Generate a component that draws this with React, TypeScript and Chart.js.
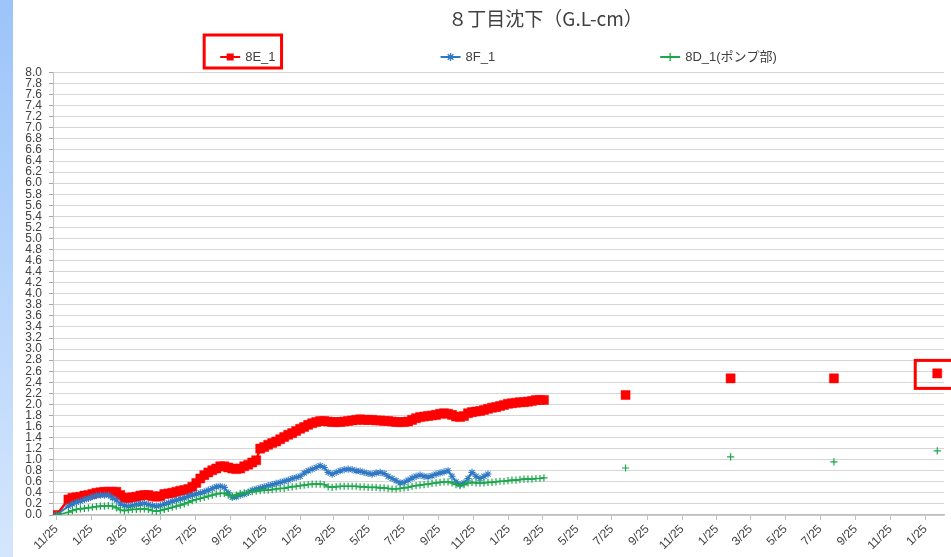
import React, { useEffect, useRef } from 'react';
import { Chart, registerables } from 'chart.js';

Chart.register(...registerables);

const chartTitle = '８丁目沈下（G.L-cm）';
const seriesNames = ['8E_1', '8F_1', '8D_1(ポンプ部)'];
const seriesColors = ['#ff0000', '#2f78c4', '#1aa84b'];
const seriesMarkers = ['rect', 'star', 'cross'];

const surveyStart = '2011-11-25';
const initialValue = 0;

const tickDates = [
  '2011-11-25', '2012-01-25', '2012-03-25', '2012-05-25', '2012-07-25', '2012-09-25',
  '2012-11-25', '2013-01-25', '2013-03-25', '2013-05-25', '2013-07-25', '2013-09-25',
  '2013-11-25', '2014-01-25', '2014-03-25', '2014-05-25', '2014-07-25', '2014-09-25',
  '2014-11-25', '2015-01-25', '2015-03-25', '2015-05-25', '2015-07-25', '2015-09-25',
  '2015-11-25', '2016-01-25',
];
const tickLabels = [
  '11/25', '1/25', '3/25', '5/25', '7/25', '9/25',
  '11/25', '1/25', '3/25', '5/25', '7/25', '9/25',
  '11/25', '1/25', '3/25', '5/25', '7/25', '9/25',
  '11/25', '1/25', '3/25', '5/25', '7/25', '9/25',
  '11/25', '1/25',
];

// weekly surveys start in week 3 after the initial survey
const firstWeeklyWeek = 3;

const red8E1Weekly = [
  0.28, 0.31, 0.32, 0.33, 0.35, 0.36, 0.38, 0.40, 0.41, 0.42,
  0.42, 0.42, 0.42, 0.36, 0.31, 0.31, 0.32, 0.33, 0.35, 0.36,
  0.36, 0.34, 0.33, 0.34, 0.38, 0.39, 0.40, 0.42, 0.44, 0.45,
  0.47, 0.51, 0.58, 0.66, 0.72, 0.77, 0.81, 0.84, 0.88, 0.88,
  0.86, 0.84, 0.83, 0.84, 0.88, 0.91, 0.95, 0.99, 1.20, 1.23,
  1.27, 1.30, 1.33, 1.37, 1.41, 1.45, 1.48, 1.52, 1.56, 1.59,
  1.63, 1.66, 1.68, 1.70, 1.70, 1.69, 1.68, 1.68, 1.68, 1.69,
  1.70, 1.71, 1.72, 1.73, 1.72, 1.72, 1.72, 1.71, 1.71, 1.70,
  1.70, 1.69, 1.68, 1.68, 1.68, 1.69, 1.72, 1.75, 1.77, 1.78,
  1.79, 1.80, 1.81, 1.83, 1.84, 1.83, 1.81, 1.78, 1.77, 1.79,
  1.84, 1.86, 1.87, 1.88, 1.90, 1.92, 1.94, 1.95, 1.97, 1.99,
  2.01, 2.02, 2.03, 2.04, 2.04, 2.05, 2.06, 2.08, 2.08, 2.08,
];

const blue8F1Weekly = [
  0.16, 0.20, 0.23, 0.25, 0.28, 0.30, 0.33, 0.35, 0.36, 0.36,
  0.36, 0.31, 0.27, 0.20, 0.17, 0.16, 0.17, 0.19, 0.20, 0.21,
  0.19, 0.17, 0.16, 0.17, 0.20, 0.22, 0.25, 0.27, 0.29, 0.31,
  0.34, 0.36, 0.38, 0.40, 0.42, 0.45, 0.48, 0.51, 0.52, 0.50,
  0.40, 0.32, 0.33, 0.36, 0.38, 0.41, 0.45, 0.47, 0.49, 0.51,
  0.53, 0.55, 0.57, 0.59, 0.61, 0.63, 0.66, 0.68, 0.70, 0.76,
  0.80, 0.83, 0.86, 0.89, 0.86, 0.77, 0.74, 0.77, 0.80, 0.82,
  0.83, 0.82, 0.80, 0.79, 0.77, 0.75, 0.74, 0.76, 0.77, 0.75,
  0.70, 0.66, 0.62, 0.58, 0.59, 0.63, 0.67, 0.70, 0.72, 0.70,
  0.69, 0.71, 0.74, 0.76, 0.78, 0.80, 0.70, 0.60, 0.55, 0.58,
  0.66, 0.77, 0.70, 0.66, 0.70, 0.74,
];

const green8D1Weekly = [
  0.05, 0.08, 0.10, 0.11, 0.12, 0.13, 0.14, 0.15, 0.16, 0.16,
  0.17, 0.16, 0.13, 0.09, 0.08, 0.09, 0.10, 0.10, 0.11, 0.11,
  0.10, 0.08, 0.07, 0.08, 0.10, 0.12, 0.14, 0.16, 0.18, 0.20,
  0.23, 0.26, 0.28, 0.30, 0.32, 0.34, 0.36, 0.38, 0.39, 0.39,
  0.36, 0.34, 0.36, 0.39, 0.40, 0.41, 0.42, 0.43, 0.44, 0.45,
  0.45, 0.46, 0.47, 0.48, 0.48, 0.50, 0.51, 0.52, 0.53, 0.54,
  0.55, 0.56, 0.56, 0.56, 0.55, 0.51, 0.50, 0.51, 0.52, 0.52,
  0.52, 0.52, 0.52, 0.51, 0.51, 0.50, 0.50, 0.50, 0.49, 0.49,
  0.48, 0.47, 0.47, 0.48, 0.49, 0.50, 0.52, 0.53, 0.54, 0.55,
  0.56, 0.57, 0.58, 0.59, 0.60, 0.60, 0.58, 0.55, 0.53, 0.55,
  0.58, 0.59, 0.58, 0.58, 0.58, 0.59, 0.59, 0.60, 0.61, 0.61,
  0.62, 0.63, 0.63, 0.64, 0.65, 0.65, 0.65, 0.66, 0.66, 0.67,
];

const laterDates = ['2014-08-18', '2015-02-18', '2015-08-18', '2016-02-15'];
const red8E1Later = [2.17, 2.47, 2.47, 2.56];
const blue8F1Later: number[] = [];
const green8D1Later = [0.85, 1.05, 0.96, 1.16];

const DAY = 86400000;
const dayOf = (iso: string) => Math.round((Date.parse(iso) - Date.parse(surveyStart)) / DAY);
const tickDays = tickDates.map(dayOf);

function buildSeries(weekly: number[], later: number[]) {
  const pts: { x: number; y: number | null }[] = [{ x: 0, y: initialValue }];
  weekly.forEach((v, i) => pts.push({ x: 7 * (firstWeeklyWeek + i), y: v }));
  later.forEach((v, i) => {
    const d = dayOf(laterDates[i]);
    pts.push({ x: d - 1, y: null });
    pts.push({ x: d, y: v });
  });
  return pts;
}

function drawMarker(ctx: CanvasRenderingContext2D, style: string, x: number, y: number, r: number, color: string) {
  ctx.save();
  ctx.strokeStyle = color;
  ctx.fillStyle = color;
  ctx.lineWidth = 1.3;
  ctx.beginPath();
  if (style === 'rect') {
    ctx.fillRect(x - r, y - r, 2 * r, 2 * r);
  } else if (style === 'star') {
    const d = r * Math.SQRT1_2;
    ctx.moveTo(x - r, y); ctx.lineTo(x + r, y);
    ctx.moveTo(x, y - r); ctx.lineTo(x, y + r);
    ctx.moveTo(x - d, y - d); ctx.lineTo(x + d, y + d);
    ctx.moveTo(x - d, y + d); ctx.lineTo(x + d, y - d);
    ctx.stroke();
  } else {
    ctx.moveTo(x - r, y); ctx.lineTo(x + r, y);
    ctx.moveTo(x, y - r); ctx.lineTo(x, y + r);
    ctx.stroke();
  }
  ctx.restore();
}

const decorPlugin = {
  id: 'decor',
  afterDraw(chart: any) {
    const { ctx, chartArea } = chart;
    const cx = (chartArea.left + chartArea.right) / 2;
    ctx.save();
    // title
    ctx.font = "19px 'Noto Sans CJK JP', sans-serif";
    ctx.fillStyle = '#404040';
    ctx.textAlign = 'center';
    ctx.textBaseline = 'middle';
    ctx.fillText(chartTitle, cx + 47, 19);

    // legend
    ctx.font = "13px 'Liberation Sans', 'Noto Sans CJK JP', sans-serif";
    const lineLen = 20;
    const gapText = 5;
    const itemPad = 165;
    const ly = 57;
    const widths = chart.data.datasets.map((ds: any) => lineLen + gapText + ctx.measureText(ds.label).width);
    const total = widths.reduce((a: number, b: number) => a + b, 0) + itemPad * (widths.length - 1);
    let x = cx - total / 2;
    const boxes: { x0: number; x1: number }[] = [];
    chart.data.datasets.forEach((ds: any, i: number) => {
      ctx.strokeStyle = ds.borderColor;
      ctx.lineWidth = 2;
      ctx.beginPath();
      ctx.moveTo(x, ly);
      ctx.lineTo(x + lineLen, ly);
      ctx.stroke();
      drawMarker(ctx, seriesMarkers[i], x + lineLen / 2, ly, i === 0 ? 3.5 : 4, ds.borderColor);
      ctx.fillStyle = '#404040';
      ctx.textAlign = 'left';
      ctx.textBaseline = 'middle';
      ctx.fillText(ds.label, x + lineLen + gapText, ly);
      boxes.push({ x0: x, x1: x + widths[i] });
      x += widths[i] + itemPad;
    });

    // highlight boxes
    ctx.strokeStyle = '#ff0000';
    ctx.lineWidth = 3;
    const b = boxes[0];
    ctx.strokeRect(b.x0 - 16, ly - 22, b.x1 - b.x0 + 22, 33);
    const meta = chart.getDatasetMeta(0);
    const last = meta.data[meta.data.length - 1];
    if (last) ctx.strokeRect(last.x - 22, last.y - 13, 44, 28);
    ctx.restore();
  },
};

export default function App() {
  const ref = useRef<HTMLCanvasElement | null>(null);

  useEffect(() => {
    document.body.style.margin = '0';
    if (!ref.current) return;
    Chart.defaults.font.family = "'Liberation Sans', 'Noto Sans CJK JP', sans-serif";
    const series = [
      buildSeries(red8E1Weekly, red8E1Later),
      buildSeries(blue8F1Weekly, blue8F1Later),
      buildSeries(green8D1Weekly, green8D1Later),
    ];
    const chart = new Chart(ref.current, {
      type: 'line',
      data: {
        datasets: [
          {
            label: seriesNames[0],
            data: series[0],
            borderColor: seriesColors[0],
            backgroundColor: seriesColors[0],
            borderWidth: 2.5,
            pointStyle: 'rect',
            pointRadius: 6.4,
            pointBorderWidth: 0.5,
            order: 3,
          },
          {
            label: seriesNames[1],
            data: series[1],
            borderColor: seriesColors[1],
            backgroundColor: seriesColors[1],
            borderWidth: 2,
            pointStyle: 'star',
            pointRadius: 3.6,
            pointBorderWidth: 1.1,
            order: 2,
          },
          {
            label: seriesNames[2],
            data: series[2],
            borderColor: seriesColors[2],
            backgroundColor: seriesColors[2],
            borderWidth: 1.6,
            pointStyle: 'cross',
            pointRadius: 3.6,
            pointBorderWidth: 1.2,
            order: 1,
          },
        ] as any,
      },
      options: {
        animation: false,
        responsive: false,
        spanGaps: false,
        layout: { padding: { top: 72.5, right: 4, bottom: 0, left: 0 } },
        elements: { line: { tension: 0 } },
        plugins: {
          legend: { display: false },
          title: { display: false },
          tooltip: { enabled: false },
        },
        scales: {
          x: {
            type: 'linear',
            min: -6,
            max: 1555,
            afterBuildTicks: (axis: any) => {
              axis.ticks = tickDays.map((v) => ({ value: v }));
            },
            afterFit: (axis: any) => {
              axis.height = 42;
            },
            ticks: {
              autoSkip: false,
              maxRotation: 45,
              minRotation: 45,
              padding: 2,
              color: '#404040',
              font: { size: 12 },
              callback: (_v: any, i: number) => tickLabels[i],
            },
            grid: {
              drawOnChartArea: false,
              drawTicks: true,
              tickLength: 5,
              tickColor: '#bfbfbf',
            },
            border: { color: '#bfbfbf', width: 1.5 },
          },
          y: {
            type: 'linear',
            min: 0,
            max: 8,
            afterFit: (axis: any) => {
              axis.width = 53;
            },
            ticks: {
              stepSize: 0.2,
              autoSkip: false,
              padding: 7,
              color: '#404040',
              font: { size: 12 },
              callback: (v: any) => Number(v).toFixed(1),
            },
            grid: {
              color: '#d6d6d6',
              lineWidth: 1,
              tickLength: 4,
              tickColor: '#a6a6a6',
            },
            border: { color: '#bfbfbf', width: 1 },
          },
        },
      } as any,
      plugins: [decorPlugin],
    });
    return () => chart.destroy();
  }, []);

  return (
    <div style={{ position: 'relative', width: 951, height: 557, background: '#ffffff', overflow: 'hidden' }}>
      <div
        style={{
          position: 'absolute',
          left: 0,
          top: 0,
          width: 13,
          height: 557,
          background: 'linear-gradient(to bottom, #9cc4f9, #d4e6fd)',
        }}
      />
      <canvas ref={ref} width={951} height={557} style={{ position: 'absolute', left: 0, top: 0 }} />
    </div>
  );
}
